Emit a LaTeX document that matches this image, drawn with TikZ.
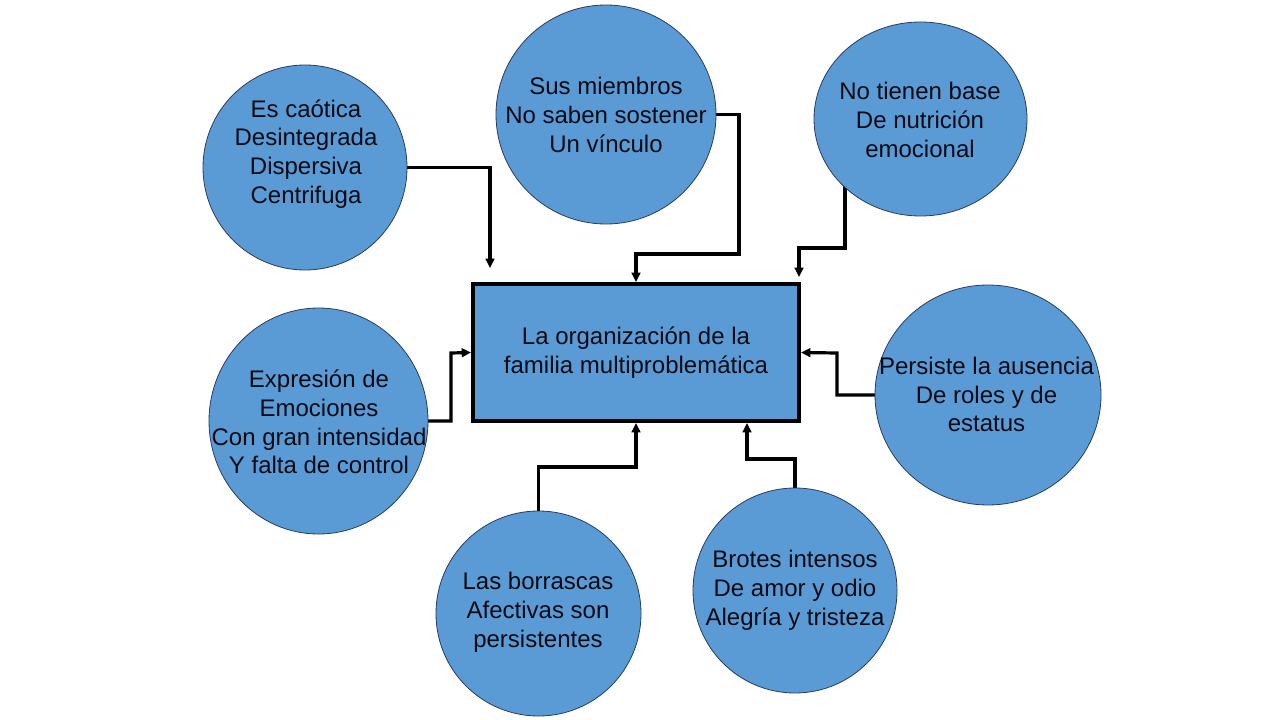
\documentclass[tikz,border=0pt]{standalone}
\usepackage{fontspec}
\setmainfont{Liberation Sans}
\usetikzlibrary{shapes.geometric,arrows.meta}
\pgfdeclarelayer{background}
\pgfsetlayers{background,main}
\definecolor{fillblue}{RGB}{91,155,213}
\definecolor{rimblue}{RGB}{40,60,95}
\definecolor{txt}{RGB}{10,10,20}
\tikzset{
  bubble/.style={ellipse,draw=rimblue,line width=0.6pt,fill=fillblue,inner sep=0pt},
  bubbletext/.style={align=center,text=txt,font=\fontsize{18}{21.6}\selectfont,inner sep=0pt},
  mainbox/.style={rectangle,draw=black,line width=3pt,fill=fillblue,inner sep=0pt,
    minimum width=244.5pt,minimum height=102.75pt},
  conn/.style={draw=black,line width=2.4pt,-{Triangle[length=7pt,width=6.5pt]}}
}
\begin{document}
\begin{tikzpicture}[x=0.75pt,y=-0.75pt]
\useasboundingbox (0,0) rectangle (1280,720);
% main box
\node[mainbox] (box) at (636,352.5) {};
\node[bubbletext] (tbox) at (636,353) {La organización de la\\familia multiproblemática};
% bubbles
\node[bubble,minimum width=153pt,minimum height=153.75pt] (c1) at (305,167.5) {};
\node[bubble,minimum width=165pt,minimum height=164.25pt] (c2) at (606,114.5) {};
\node[bubble,minimum width=159.75pt,minimum height=145.5pt] (c3) at (920.5,119) {};
\node[bubble,minimum width=164.25pt,minimum height=169.5pt] (c4) at (318.5,421) {};
\node[bubble,minimum width=169.5pt,minimum height=165pt] (c5) at (988,395) {};
\node[bubble,minimum width=153.75pt,minimum height=153.75pt] (c6) at (538.5,613.5) {};
\node[bubble,minimum width=153pt,minimum height=153.75pt] (c7) at (795,590.5) {};
% texts
\node[bubbletext] (t1) at (306,154) {Es caótica\\Desintegrada\\Dispersiva\\Centrifuga};
\node[bubbletext] (t2) at (606,115) {Sus miembros\\No saben sostener\\Un vínculo};
\node[bubbletext] (t3) at (920,120) {No tienen base\\De nutrición\\emocional};
\node[bubbletext] (t4) at (319,422) {Expresión de\\Emociones\\Con gran intensidad\\Y falta de control};
\node[bubbletext] (t5) at (986.5,394.5) {Persiste la ausencia\\De roles y de\\estatus};
\node[bubbletext] (t6) at (538,612) {Las borrascas\\Afectivas son\\persistentes};
\node[bubbletext] (t7) at (795,590) {Brotes intensos\\De amor y odio\\Alegría y tristeza};
% bend points and free ends
\coordinate (e1) at (490,268);
\coordinate (k2) at (739,254);
\coordinate (k3) at (845,248);
\coordinate (e3) at (799,277);
\coordinate (k4) at (451,353);
\coordinate (k5) at (837,353);
\coordinate (k6) at (636,467);
\coordinate (k7) at (747,459);
\begin{pgfonlayer}{background}
\draw[conn] (c1.center) -| (e1);
\draw[conn] (c2.center) -| (k2) -| (box.north);
\draw[conn] (c3.center -| k3) -- (k3) -| (e3);
\draw[conn] (c4.center) -| (k4) -- (box.west);
\draw[conn] (c5.center) -| (k5) -- (box.east);
\draw[conn] (c6.center) |- (k6) -- (box.south);
\draw[conn] (c7.center) |- (k7) -- (box.south -| k7);
\end{pgfonlayer}
\end{tikzpicture}
\end{document}
